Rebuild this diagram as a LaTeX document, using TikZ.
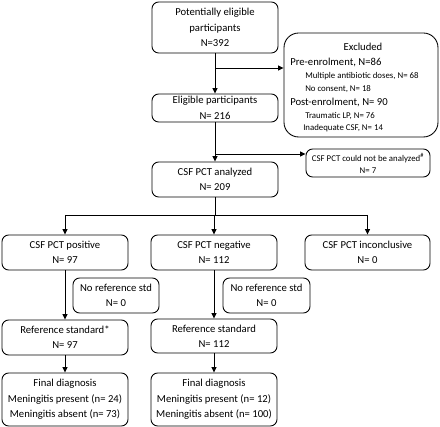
\documentclass[tikz,border=0pt]{standalone}
\usepackage{fontspec}
\setmainfont{Carlito}
\usetikzlibrary{arrows.meta}
\begin{document}
\begin{tikzpicture}[x=0.75pt,y=-0.75pt,
  box/.style 2 args={draw, line width=0.65pt, rounded corners=5pt, align=center, inner sep=0pt,
     minimum width=#1*0.75pt, minimum height=#2*0.75pt, font=\fontsize{8}{11.5}\selectfont},
  arr/.style={line width=0.65pt, -{Triangle[length=4pt,width=3.6pt]}},
  ln/.style={line width=0.65pt},
  big/.style={inner sep=0pt, font=\fontsize{8}{10}\selectfont},
  small/.style={inner sep=0pt, font=\fontsize{6.6}{8}\selectfont}]
\useasboundingbox (0,0) rectangle (440,427);
% top part
\node[box={126}{51}] (top) at (215,27.5) {Potentially eligible\\participants\\N=392};
\node[draw, line width=0.65pt, rounded corners=11pt, minimum width=154*0.75pt, minimum height=104*0.75pt] (excl) at (361,85) {};
\node[big] (exT) at (363,47) {Excluded};
\node[big, anchor=west] (ex1) at (290,62) {Pre-enrolment, N=86};
\node[small, anchor=west] (ex2) at (305,76) {Multiple antibiotic doses, N= 68};
\node[small, anchor=west] (ex3) at (305,89) {No consent, N= 18};
\node[big, anchor=west] (ex4) at (290,102) {Post-enrolment, N= 90};
\node[small, anchor=west] (ex5) at (305,116) {Traumatic LP, N= 76};
\node[small, anchor=west] (ex6) at (303,128) {Inadequate CSF, N= 14};
\node[box={126}{28}] (elig) at (215,108) {Eligible participants\\N= 216};
\node[box={124}{28}, font=\fontsize{6.6}{9}\selectfont] (nota) at (368,163) {CSF PCT could not be analyzed\textsuperscript{\#}\\N= 7};
\node[box={126}{35}] (anal) at (215,179.5) {CSF PCT analyzed\\N= 209};
\coordinate (b1) at (215,68);
\coordinate (b2) at (215,154);
\draw[arr] (top.south) -- (elig.north);
\draw[arr] (b1) -- (b1 -| excl.west);
\draw[arr] (elig.south) -- (anal.north);
\draw[arr] (b2) -- (b2 -| nota.west);
% row 1
\node[box={126}{35}] (pos) at (65,252.5) {CSF PCT positive\\N= 97};
\node[box={126}{35}] (neg) at (214,252.5) {CSF PCT negative\\N= 112};
\node[box={125}{35}] (inc) at (367.5,252.5) {CSF PCT inconclusive\\N= 0};
\coordinate (s0) at (214,215);
\coordinate (sl) at (65,215);
\coordinate (sr) at (367.5,215);
\draw[ln] (anal.south) -- (anal.south |- s0);
\draw[ln] (sl) -- (sr);
\draw[arr] (sl) -- (pos.north);
\draw[arr] (s0) -- (neg.north);
\draw[arr] (sr) -- (inc.north);
% row 2
\node[box={86}{35}] (nrs1) at (116,295.5) {No reference std\\N= 0};
\node[box={87}{35}] (nrs2) at (266.5,295.5) {No reference std\\N= 0};
% row 3
\node[box={126}{35}] (ref1) at (65,337.5) {Reference standard*\\N= 97};
\node[box={126}{34}] (ref2) at (214,336) {Reference standard\\N= 112};
\draw[arr] (pos.south) -- (ref1.north);
\draw[arr] (neg.south) -- (ref2.north);
% row 4
\node[box={126}{53}] (fin1) at (65,399.5) {Final diagnosis\\Meningitis present (n= 24)\\Meningitis absent (n= 73)};
\node[box={126}{53}] (fin2) at (214,399.5) {Final diagnosis\\Meningitis present (n= 12)\\Meningitis absent (n= 100)};
\draw[arr] (ref1.south) -- (fin1.north);
\draw[arr] (ref2.south) -- (fin2.north);
\end{tikzpicture}
\end{document}
